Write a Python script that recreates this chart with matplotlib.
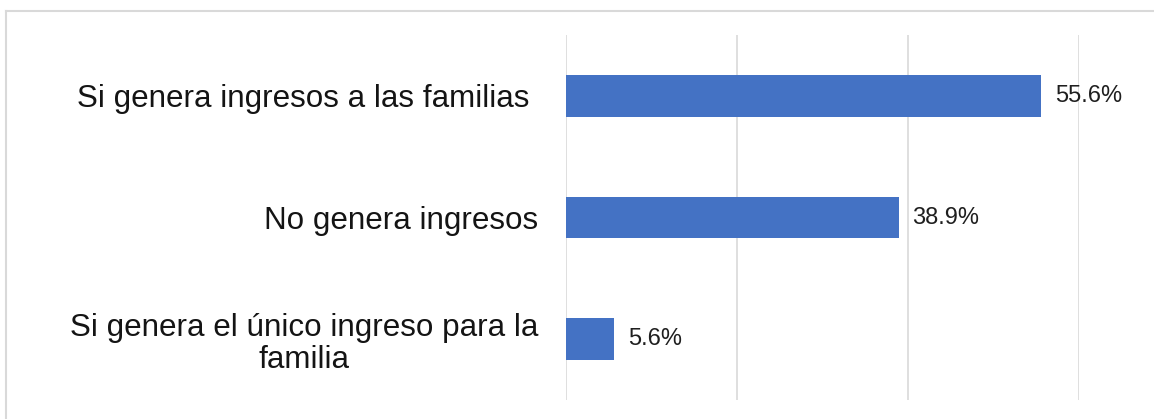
import matplotlib.pyplot as plt
from matplotlib.lines import Line2D

categorias = ["Si genera ingresos a las familias ",
              "No genera ingresos",
              "Si genera el único ingreso para la\nfamilia"]
valores = [55.6, 38.9, 5.6]
etiquetas = ["55.6%", "38.9%", "5.6%"]
grid_ticks = [0, 20, 40, 60]

plt.rcParams["font.family"] = ["Liberation Sans", "DejaVu Sans"]

W, H = 1154, 419
fig = plt.figure(figsize=(W / 100, H / 100), dpi=100)
ax = fig.add_axes([566 / W, (H - 400) / H, 513 / W, 365 / H])

ypos = list(range(len(categorias)))
ax.barh(ypos, valores, height=0.34, color="#4472C4", zorder=3)
for y, v, t in zip(ypos, valores, etiquetas):
	ax.annotate(t, (v, y), xytext=(10, 0), textcoords="offset points",
	            va="center", ha="left", fontsize=17, color="#1f1f1f")

ax.set_xlim(0, 60)
ax.set_ylim(len(categorias) - 0.5, -0.5)
ax.set_xticks(grid_ticks)
ax.set_xticklabels([])
ax.set_yticks(ypos)
ax.set_yticklabels(categorias, fontsize=22.6, color="#141414",
                   multialignment="center", linespacing=1.1)
ax.tick_params(axis="both", length=0)
ax.tick_params(axis="y", pad=20)
ax.grid(axis="x", color="#d9d9d9", linewidth=1.2, zorder=0)
for s in ax.spines.values():
	s.set_visible(False)

# marco del grafico
fig.add_artist(Line2D([6 / W, 6 / W], [0, 1 - 11 / H], color="#d9d9d9", linewidth=1.5))
fig.add_artist(Line2D([6 / W, 1], [1 - 11 / H, 1 - 11 / H], color="#d9d9d9", linewidth=1.5))

fig.savefig("out.png", dpi=100)
